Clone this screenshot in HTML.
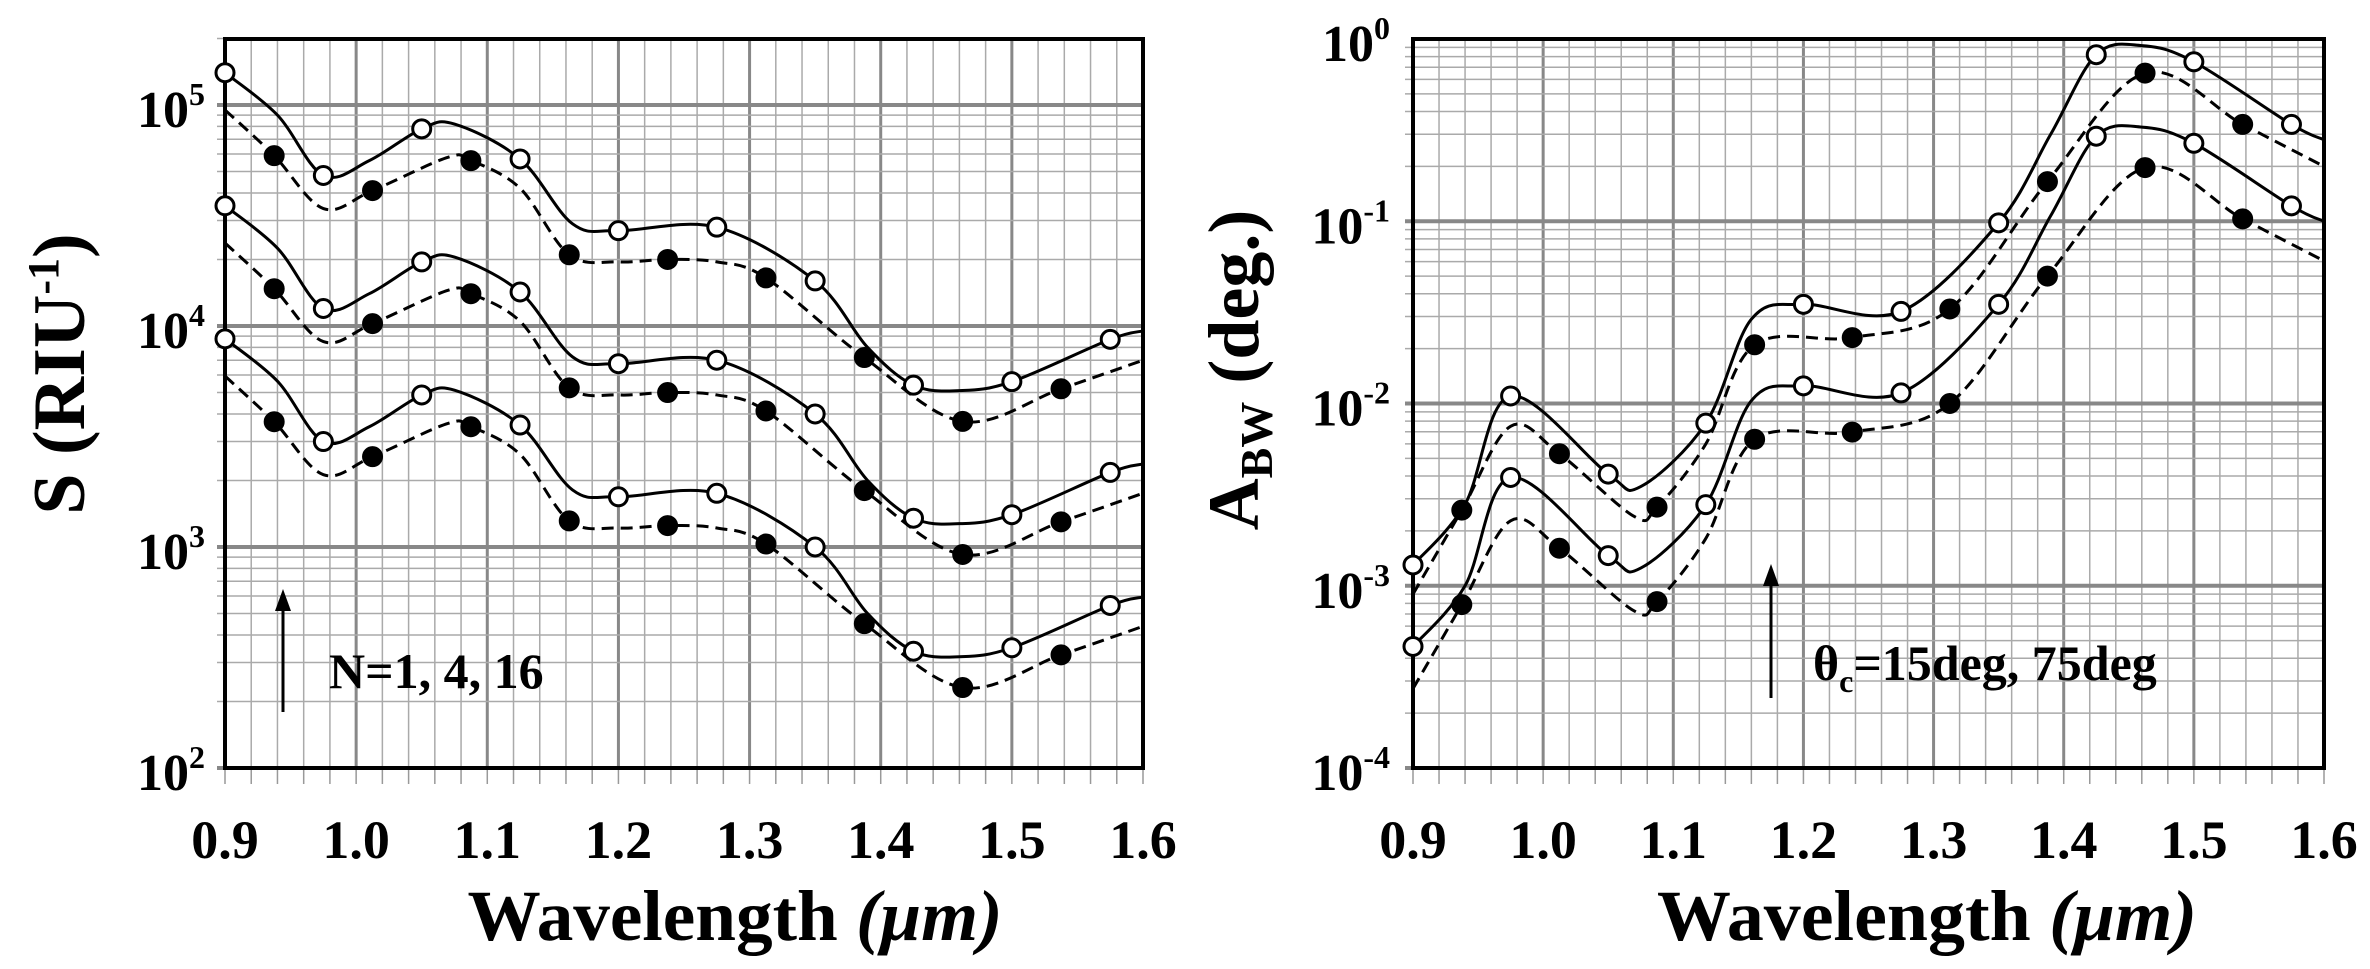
<!DOCTYPE html>
<html><head><meta charset="utf-8"><style>
html,body{margin:0;padding:0;background:#fff;}
svg{display:block;}
text{font-family:"Liberation Serif",serif;font-weight:bold;fill:#000;}
</style></head><body>
<svg id="s" width="2370" height="969" viewBox="0 0 2370 969" xmlns="http://www.w3.org/2000/svg">
<g id="g"></g>
<text x="735" y="940" font-size="72" text-anchor="middle" textLength="535" lengthAdjust="spacingAndGlyphs">Wavelength <tspan font-style="italic">(μm)</tspan></text>
<text x="1927" y="940" font-size="72" text-anchor="middle" textLength="540" lengthAdjust="spacingAndGlyphs">Wavelength <tspan font-style="italic">(μm)</tspan></text>
<text transform="translate(84,374) rotate(-90)" font-size="74" text-anchor="middle">S (RIU<tspan font-size="44" dy="-26">-1</tspan><tspan dy="26">)</tspan></text>
<text transform="translate(1258,370) rotate(-90)" font-size="72" text-anchor="middle">A<tspan font-size="46" dy="14">BW</tspan><tspan dy="-14"> (deg.)</tspan></text>
<text x="329" y="688" font-size="50">N=1, 4, 16</text>
<text x="1813" y="680" font-size="50">θ<tspan font-size="32" dy="12">c</tspan><tspan dy="-12">=15deg, 75deg</tspan></text>
</svg>
<script>
const NS="http://www.w3.org/2000/svg",G=document.getElementById('g');
function el(t,a,p){const e=document.createElementNS(NS,t);for(const k in a)e.setAttribute(k,a[k]);(p||G).appendChild(e);return e;}
function plot(P){
 const X=x=>P.x0+(x-0.9)/0.7*(P.x1-P.x0);
 const Y=v=>P.yb-(Math.log10(v)-P.lmin)*P.dec;
 for(let i=0;i<=35;i++){const x=X(0.9+i*0.02);const maj=i%5==0;
  el('line',{x1:x,y1:P.yt,x2:x,y2:P.yb,stroke:maj?'#888':'#aaa','stroke-width':maj?3:1.5});
  el('line',{x1:x,y1:P.yb,x2:x,y2:P.yb+16,stroke:'#999','stroke-width':1.5});}
 for(let d=P.lmin;d<P.lmax;d++){for(let k=1;k<10;k++){const v=k*Math.pow(10,d);const y=Y(v);if(y<P.yt-1)continue;
  el('line',{x1:P.x0-8,y1:y,x2:P.x1,y2:y,stroke:k==1?'#888':'#aaa','stroke-width':k==1?4:1.5});}}
 el('rect',{x:P.x0,y:P.yt,width:P.x1-P.x0,height:P.yb-P.yt,fill:'none',stroke:'#000','stroke-width':4});
 for(let d=P.lmin;d<=P.lmax;d++){const y=Y(Math.pow(10,d));if(y<P.yt-2)continue;
  const t=el('text',{x:P.lx,y:y+22,'font-size':52,'text-anchor':'end'});
  t.innerHTML='10<tspan font-size="32" dy="-22">'+(d<0?'-'+(-d):d)+'</tspan>';}
 for(let i=0;i<=7;i++){el('text',{x:X(0.9+i*0.1),y:858,'font-size':54,'text-anchor':'middle'}).textContent=(0.9+i*0.1).toFixed(1);}
 P.series.forEach(s=>{
  const pts=s.p.map(q=>[X(q[0]),Y(q[1])]);
  let d='M'+pts[0][0]+','+pts[0][1];
  for(let i=0;i<pts.length-1;i++){const p0=pts[i-1]||pts[i],p1=pts[i],p2=pts[i+1],p3=pts[i+2]||p2;
   d+=' C'+(p1[0]+(p2[0]-p0[0])/6)+','+(p1[1]+(p2[1]-p0[1])/6)+' '+(p2[0]-(p3[0]-p1[0])/6)+','+(p2[1]-(p3[1]-p1[1])/6)+' '+p2[0]+','+p2[1];}
  el('path',{d:d,fill:'none',stroke:'#000','stroke-width':3,'stroke-dasharray':s.dash?'12,7':'none'});
  s.p.forEach(q=>{if(q[2])el('circle',{cx:X(q[0]),cy:Y(q[1]),r:9,fill:s.dash?'#000':'#fff',stroke:'#000','stroke-width':3});});
 });
}
function sc(arr,f){return arr.map(q=>[q[0],q[1]*f,q[2]]);}
const LS=[[0.9,1.4e5,1],[0.94,9e4],[0.975,4.8e4,1],[1.01,5.6e4],[1.05,7.8e4,1],[1.075,8.2e4],[1.125,5.7e4,1],[1.165,2.9e4],[1.2,2.7e4,1],[1.275,2.8e4,1],[1.35,1.6e4,1],[1.39,8e3],[1.425,5.4e3,1],[1.46,5.1e3],[1.5,5.6e3,1],[1.575,8.7e3,1],[1.6,9.5e3]];
const LD=[[0.9,9.5e4],[0.9375,5.9e4,1],[0.975,3.4e4],[1.0125,4.1e4,1],[1.07,5.8e4],[1.0875,5.6e4,1],[1.125,4.2e4],[1.1625,2.1e4,1],[1.2,1.95e4],[1.2375,2.0e4,1],[1.275,1.95e4],[1.3125,1.65e4,1],[1.3875,7.2e3,1],[1.4625,3.7e3,1],[1.5375,5.2e3,1],[1.6,7e3]];
let ls=[];[1,0.25,1/16].forEach(f=>{ls.push({p:sc(LS,f)});ls.push({p:sc(LD,f),dash:1});});
plot({x0:225,x1:1143,yt:39,yb:768,lmin:2,lmax:5.3,dec:221,lx:205,series:ls});
const RS=[[0.9,1.3e-3,1],[0.94,2.8e-3],[0.975,1.1e-2,1],[1.05,4.1e-3,1],[1.075,3.5e-3],[1.125,7.8e-3,1],[1.16,2.9e-2],[1.2,3.5e-2,1],[1.275,3.2e-2,1],[1.35,9.8e-2,1],[1.39,0.3],[1.425,0.82,1],[1.46,0.92],[1.5,0.75,1],[1.575,0.34,1],[1.6,0.28]];
const RD=[[0.9,9e-4],[0.9375,2.6e-3,1],[0.975,7.5e-3],[1.0125,5.3e-3,1],[1.07,2.4e-3],[1.0875,2.7e-3,1],[1.125,6e-3],[1.1625,2.1e-2,1],[1.2375,2.3e-2,1],[1.3125,3.3e-2,1],[1.3875,0.165,1],[1.4625,0.65,1],[1.5375,0.34,1],[1.6,0.2]];
let rs=[{p:RS},{p:RD,dash:1},{p:sc(RS,1/2.8)},{p:sc(RD,1/3.3),dash:1}];
plot({x0:1413,x1:2324,yt:39,yb:768,lmin:-4,lmax:0,dec:182.25,lx:1390,series:rs});
function arrow(x,y1,y2){el('line',{x1:x,y1:y1,x2:x,y2:y2+20,stroke:'#000','stroke-width':3});el('polygon',{points:(x-8)+','+(y2+22)+' '+(x+8)+','+(y2+22)+' '+x+','+y2,fill:'#000'});}
arrow(283,712,589);arrow(1771,698,564);
</script>
</body></html>
